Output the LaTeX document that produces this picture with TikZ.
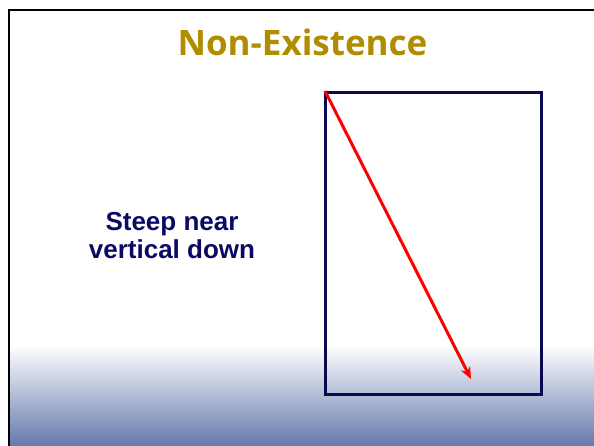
\documentclass[tikz,border=0pt]{standalone}
\usepackage{fontspec}
\setmainfont{Liberation Sans}
\newfontfamily\titlefont{Open Sans}
\usetikzlibrary{arrows.meta}
\definecolor{gold}{RGB}{176,140,0}
\definecolor{navy}{RGB}{10,10,80}
\definecolor{textnavy}{RGB}{10,10,100}
\definecolor{slateblue}{RGB}{100,120,170}
\tikzset{
  frameline/.style={draw=black, line width=2.5pt},
  plotbox/.style={draw=navy, line width=2.6pt},
  redarrow/.style={draw=red, line width=3pt, -{Stealth[length=12pt,width=10pt]}},
  titletext/.style={text=gold, font=\titlefont\bfseries\fontsize{35}{40}\selectfont, inner sep=0pt, anchor=base},
  bodytext/.style={text=textnavy, font=\bfseries\fontsize{26}{28}\selectfont, align=center, inner sep=0pt}
}
\begin{document}
\begin{tikzpicture}[x=1pt,y=-1pt]
\useasboundingbox (0,0) rectangle (594,446);
\fill[white] (0,0) rectangle (594,446);
\shade[top color=white, bottom color=slateblue] (9,345) rectangle (594,446);
\draw[frameline] (9,446) -- (9,10) -- (594,10);
\node[titletext] (title) at (302.5,56) {Non-Existence};
\node[bodytext] (label) at (172,236) {Steep near\\vertical down};
\node[plotbox, minimum width=216pt, minimum height=302pt, inner sep=0pt, anchor=north west] (box) at (324,91) {};
\coordinate (start) at (325,91);
\coordinate (end) at (471,379);
\draw[redarrow] (start) -- (end);
\end{tikzpicture}
\end{document}
